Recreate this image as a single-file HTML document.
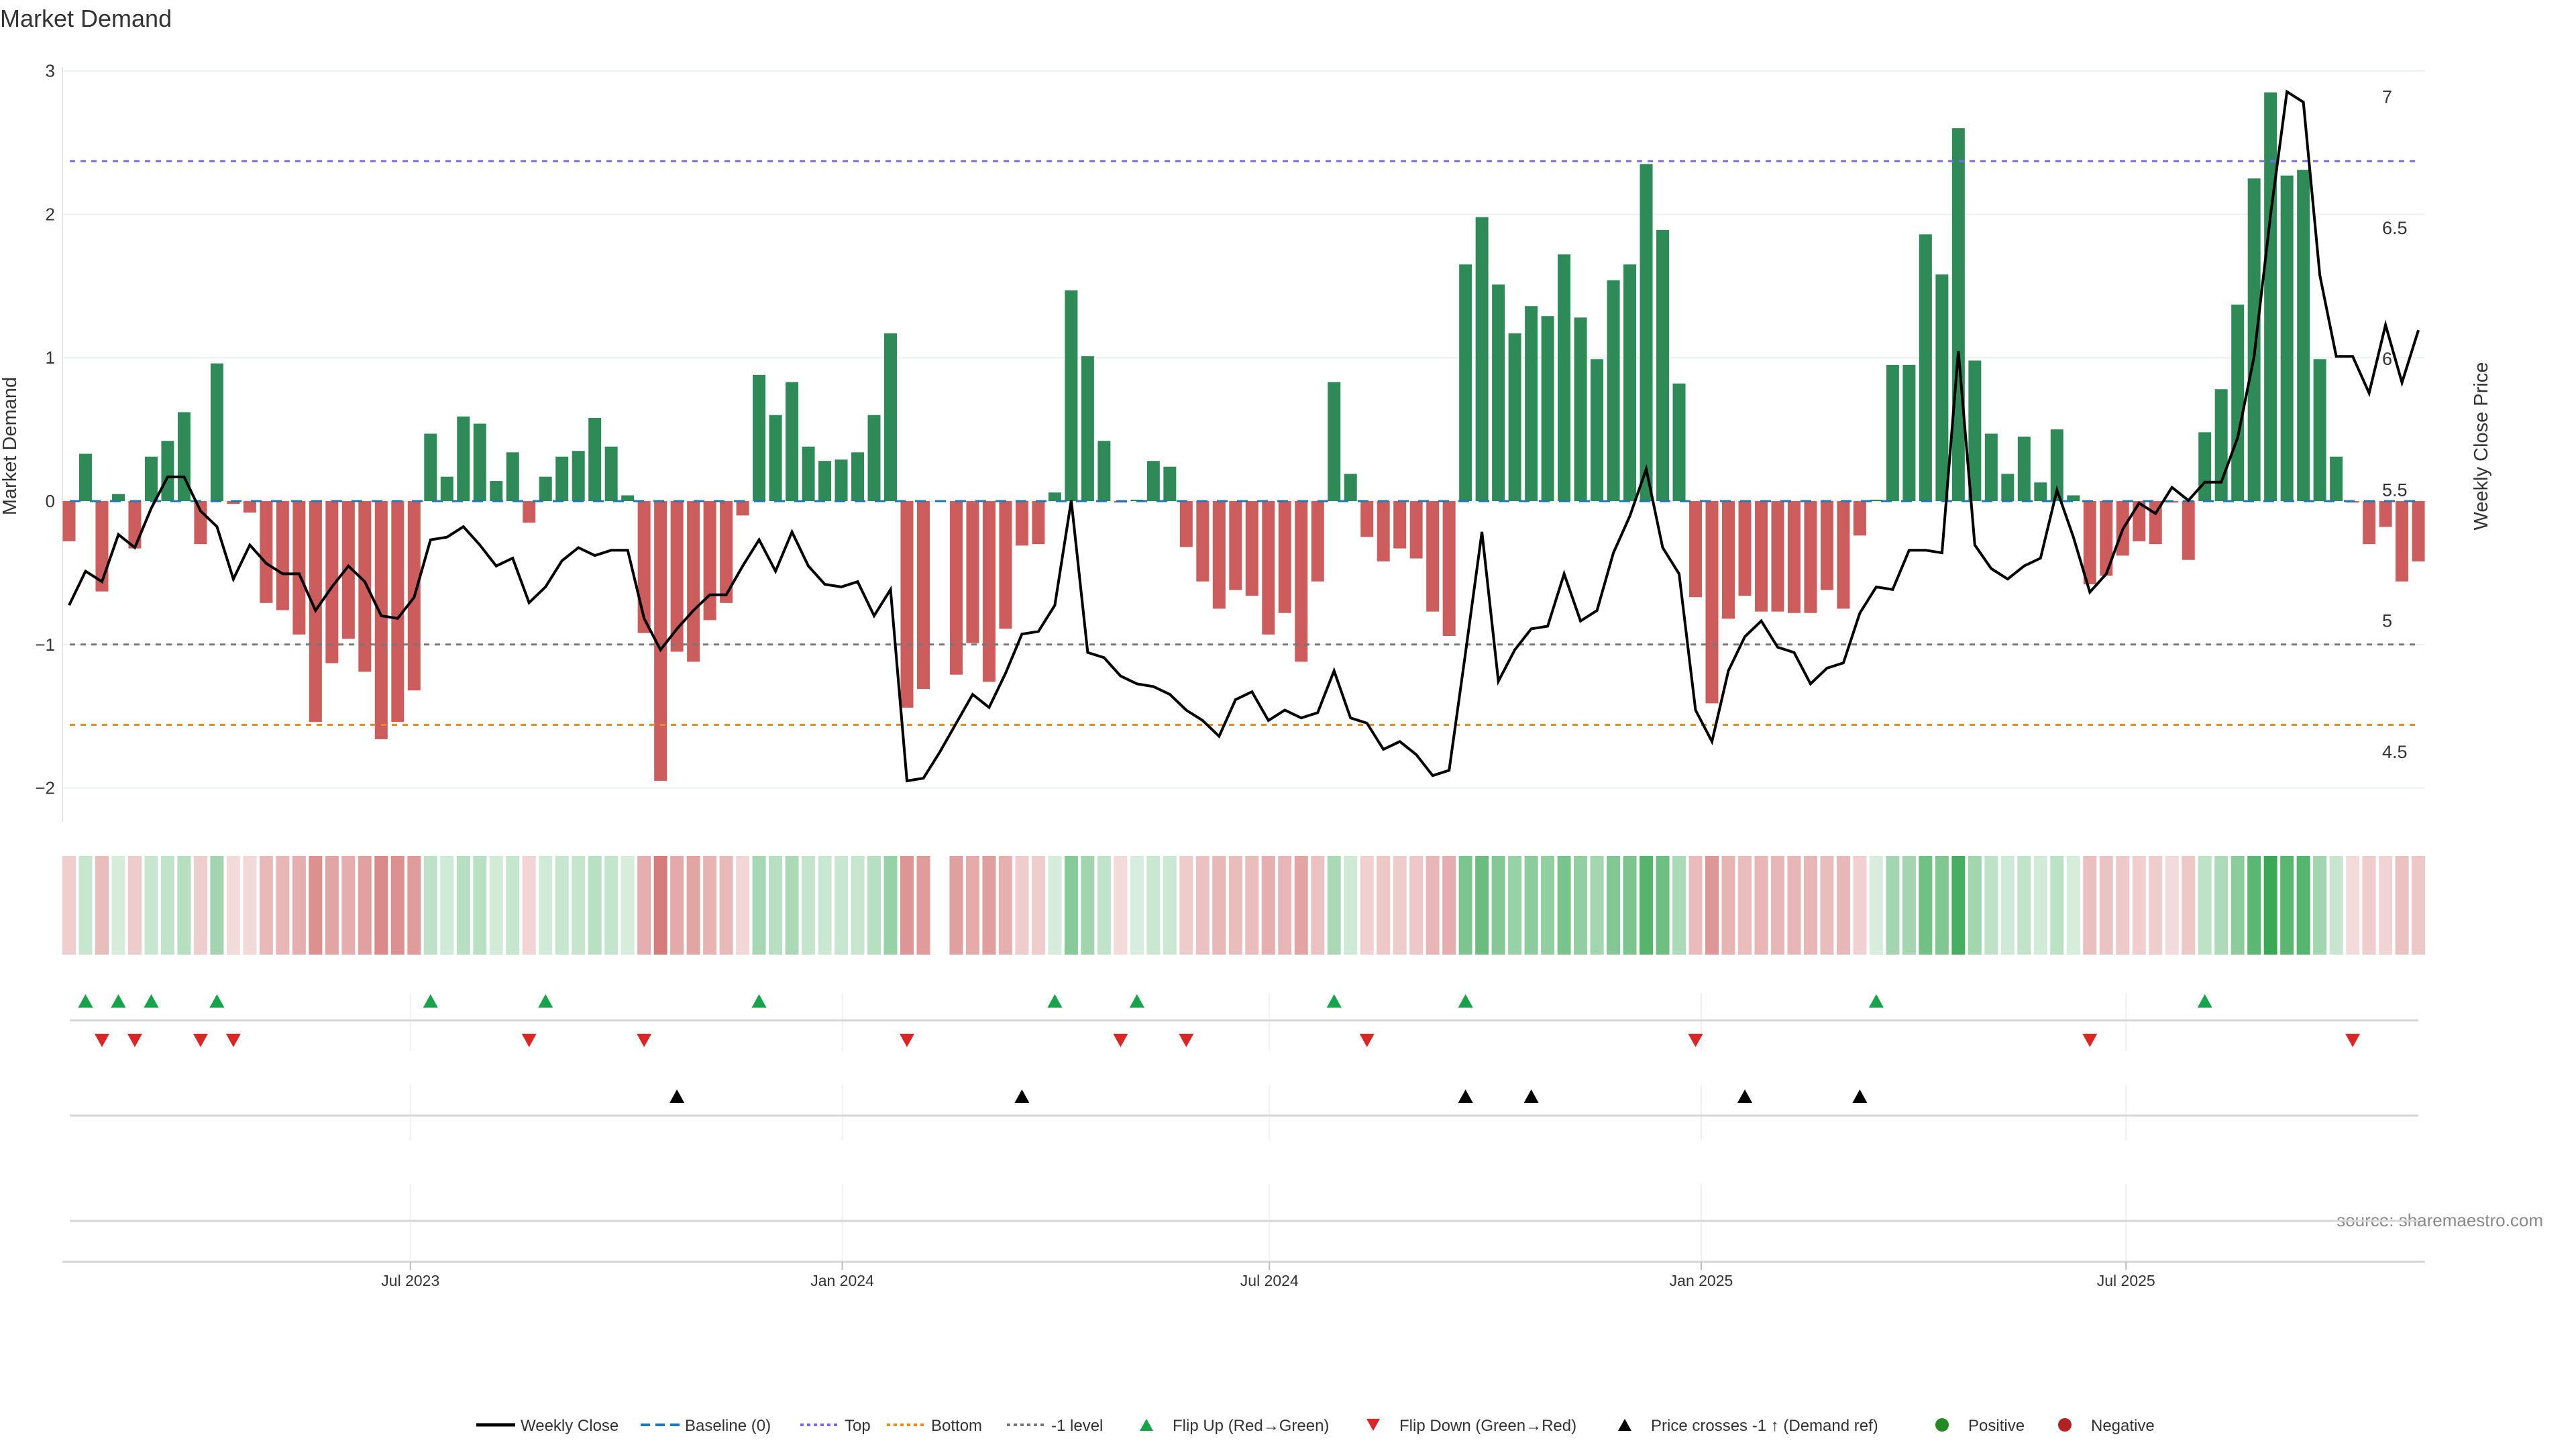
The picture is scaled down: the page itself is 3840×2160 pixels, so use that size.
<!DOCTYPE html>
<html><head><meta charset="utf-8"><style>
html,body{margin:0;padding:0;background:#fff;}
svg{display:block;font-family:"Liberation Sans","DejaVu Sans",sans-serif;}
</style></head><body>
<svg id="chart" width="3840" height="2160" viewBox="0 0 3840 2160" xmlns="http://www.w3.org/2000/svg">
<text x="0" y="40" font-size="36" fill="#333">Market Demand</text>
<text transform="translate(24,665) rotate(-90)" text-anchor="middle" font-size="29" fill="#333">Market Demand</text>
<text transform="translate(3708,665) rotate(-90)" text-anchor="middle" font-size="29" fill="#333">Weekly Close Price</text>
<text x="3791" y="1828" text-anchor="end" font-size="26" fill="#888">source: sharemaestro.com</text>
<g id="layer"></g>
</svg>
<script>
const demand=[-0.28,0.33,-0.63,0.05,-0.33,0.31,0.42,0.62,-0.3,0.96,-0.02,-0.08,-0.71,-0.76,-0.93,-1.54,-1.13,-0.96,-1.19,-1.66,-1.54,-1.32,0.47,0.17,0.59,0.54,0.14,0.34,-0.15,0.17,0.31,0.35,0.58,0.38,0.04,-0.92,-1.95,-1.05,-1.12,-0.83,-0.71,-0.1,0.88,0.6,0.83,0.38,0.28,0.29,0.34,0.6,1.17,-1.44,-1.31,null,-1.21,-0.99,-1.26,-0.89,-0.31,-0.3,0.06,1.47,1.01,0.42,-0.01,0.01,0.28,0.24,-0.32,-0.56,-0.75,-0.62,-0.66,-0.93,-0.78,-1.12,-0.56,0.83,0.19,-0.25,-0.42,-0.33,-0.4,-0.77,-0.94,1.65,1.98,1.51,1.17,1.36,1.29,1.72,1.28,0.99,1.54,1.65,2.35,1.89,0.82,-0.67,-1.41,-0.82,-0.66,-0.77,-0.77,-0.78,-0.78,-0.62,-0.75,-0.24,0.01,0.95,0.95,1.86,1.58,2.6,0.98,0.47,0.19,0.45,0.13,0.5,0.04,-0.58,-0.52,-0.38,-0.28,-0.3,-0.01,-0.41,0.48,0.78,1.37,2.25,2.85,2.27,2.31,0.99,0.31,-0.01,-0.3,-0.18,-0.56,-0.42];
const closePrice=[5.06,5.19,5.15,5.33,5.28,5.43,5.55,5.55,5.42,5.36,5.16,5.29,5.22,5.18,5.18,5.04,5.13,5.21,5.15,5.02,5.01,5.09,5.31,5.32,5.36,5.29,5.21,5.24,5.07,5.13,5.23,5.28,5.25,5.27,5.27,5.01,4.89,4.97,5.04,5.10,5.10,5.21,5.31,5.19,5.34,5.21,5.14,5.13,5.15,5.02,5.12,4.39,4.40,4.50,4.61,4.72,4.67,4.80,4.95,4.96,5.06,5.46,4.88,4.86,4.79,4.76,4.75,4.72,4.66,4.62,4.56,4.70,4.73,4.62,4.66,4.63,4.65,4.81,4.63,4.61,4.51,4.54,4.49,4.41,4.43,4.88,5.34,4.77,4.89,4.97,4.98,5.18,5.00,5.04,5.26,5.40,5.58,5.28,5.18,4.66,4.54,4.81,4.94,5.00,4.90,4.88,4.76,4.82,4.84,5.03,5.13,5.12,5.27,5.27,5.26,6.03,5.29,5.20,5.16,5.21,5.24,5.50,5.32,5.11,5.18,5.35,5.45,5.41,5.51,5.46,5.53,5.53,5.70,6.01,6.55,7.02,6.98,6.32,6.01,6.01,5.87,6.13,5.91,6.11];
const flipUpIdx=[1,3,5,9,22,29,42,60,65,77,85,110,130];
const flipDownIdx=[2,4,8,10,28,35,51,64,68,79,99,123,139];
const priceCrossIdx=[37,58,85,89,102,109];
const leftTicks=[3,2,1,0,-1,-2];
const rightTicks=[7,6.5,6,5.5,5,4.5];
const dateTickLabels=["Jul 2023","Jan 2024","Jul 2024","Jan 2025","Jul 2025"];
const dateTickValues=["2023-07-01","2024-01-01","2024-07-01","2025-01-01","2025-07-01"];
const levelTop=2.37, levelBottom=-1.56, levelMinus1=-1;

const NS="http://www.w3.org/2000/svg";
const layer=document.getElementById('layer');
function mk(tag,attrs,parent){const e=document.createElementNS(NS,tag);for(const k in attrs)e.setAttribute(k,attrs[k]);(parent||layer).appendChild(e);return e;}
const X0=93,X1=3615;
const startDate=new Date("2023-02-05T00:00:00Z").getTime();
const dayPx=24.49/7;
function xDate(s){return 101+(new Date(s+"T00:00:00Z").getTime()-startDate)/86400000*dayPx;}
function xi(i){return 103+i*24.49;}
function yL(v){return 747-v*213.8;}
function yR(v){return 144.5+(7-v)*390.6;}

leftTicks.forEach(t=>{
  const g=mk('line',{x1:X0,x2:X1,y1:yL(t),y2:yL(t),stroke:'#eceff3','stroke-width':2});
  
  
  const tx=mk('text',{x:82,y:yL(t)+9,'text-anchor':'end','font-size':26,fill:'#333'});
  tx.textContent=(t<0?'\u2212'+(-t):String(t));
  
  
});
rightTicks.forEach(t=>{
  const tx=mk('text',{x:3551,y:yR(t)+9,'font-size':27,fill:'#333'});
  tx.textContent=String(t);
  
  
});
const ax=mk('line',{x1:X0,x2:X0,y1:100,y2:1225,stroke:'#e6e6e6','stroke-width':2});



demand.forEach((v,i)=>{
  if(v===null)return;
  const y0=yL(0),y1=yL(v);
  const b=mk('rect',{x:xi(i)-9.5,y:Math.min(y0,y1),width:19,height:Math.max(1,Math.abs(y1-y0)),fill:v>=0?'#2e8b57':'#cd5c5c'});
  
  
});
function refLine(v,col,dash,name){const l=mk('line',{x1:104,x2:3605,y1:yL(v),y2:yL(v),stroke:col,'stroke-width':3,'stroke-dasharray':dash});}
refLine(0,'#1f77b4','16 14','baseline-zero');
refLine(levelTop,'#7b68ee','8 8','top-level-line');
refLine(levelBottom,'#ee8822','8 8','bottom-level-line');
refLine(levelMinus1,'#777','8 8','minus-one-level-line');
const pts=closePrice.map((p,i)=>xi(i).toFixed(1)+','+yR(p).toFixed(1)).join(' ');
const pl=mk('polyline',{points:pts,fill:'none',stroke:'#000','stroke-width':4,'stroke-linejoin':'miter'});



demand.forEach((v,i)=>{
  if(v===null)return;
  const a=Math.min(1,Math.abs(v)/2.9);
  let col;
  if(v>=0){col=`rgba(40,160,70,${(0.18+0.75*a).toFixed(3)})`;}
  else{col=`rgba(200,80,80,${(0.2+0.55*Math.min(1,Math.abs(v)/1.95)).toFixed(3)})`;}
  const c=mk('rect',{x:xi(i)-10,y:1276,width:20,height:147,fill:col});
  
  
});

[[1480,1567],[1617,1700],[1765,1881]].forEach(([a,b])=>{
  dateTickValues.forEach(d=>{const l=mk('line',{x1:xDate(d),x2:xDate(d),y1:a,y2:b,stroke:'#eef0f3','stroke-width':2});});
});
[1521,1663,1820].forEach(y=>{const l=mk('line',{x1:104,x2:3605,y1:y,y2:y,stroke:'#d6d6d6','stroke-width':3});});
function tri(x,y,up,col,name){const h=20,w=11;const p=up?`${x},${y-h/2} ${x-w},${y+h/2} ${x+w},${y+h/2}`:`${x},${y+h/2} ${x-w},${y-h/2} ${x+w},${y-h/2}`;const t=mk('polygon',{points:p,fill:col});}
flipUpIdx.forEach(i=>tri(xi(i),1492,true,'#16a34a','flip-up-marker'));
flipDownIdx.forEach(i=>tri(xi(i),1551,false,'#dc2626','flip-down-marker'));
priceCrossIdx.forEach(i=>tri(xi(i),1634,true,'#000','price-cross-marker'));

const xa=mk('line',{x1:X0,x2:X1,y1:1881,y2:1881,stroke:'#d6d6d6','stroke-width':3});


dateTickValues.forEach((d,k)=>{
  const x=xDate(d);
  const tk=mk('line',{x1:x,x2:x,y1:1881,y2:1893,stroke:'#bbb','stroke-width':2});
  
  
  const t=mk('text',{x:x,y:1917,'text-anchor':'middle','font-size':23,fill:'#333'});
  t.textContent=dateTickLabels[k];
  
  
});

const legend=mk('g',{});


const items=[
 ['line','#000','','Weekly Close',710],
 ['line','#1f77b4','14 8','Baseline (0)',955],
 ['line','#7b68ee','5 5','Top',1193],
 ['line','#ee8822','5 5','Bottom',1322],
 ['line','#777','5 5','-1 level',1501],
 ['up','#16a34a','','Flip Up (Red\u2192Green)',1680],
 ['down','#dc2626','','Flip Down (Green\u2192Red)',2018],
 ['up','#000','','Price crosses -1 \u2191 (Demand ref)',2393],
 ['dot','#228b22','','Positive',2866],
 ['dot','#b22222','','Negative',3049]];
items.forEach(([kind,col,dash,label,x])=>{
  const g=mk('g',{},legend);
  
  
  const y=2124;
  if(kind==='line')mk('line',{x1:x,x2:x+58,y1:y,y2:y,stroke:col,'stroke-width':!dash?5:4,'stroke-dasharray':dash},g);
  else if(kind==='dot')mk('circle',{cx:x+29,cy:y,r:10,fill:col},g);
  else{const h=18,w=10,cx=x+29;mk('polygon',{points:kind==='up'?`${cx},${y-h/2} ${cx-w},${y+h/2} ${cx+w},${y+h/2}`:`${cx},${y+h/2} ${cx-w},${y-h/2} ${cx+w},${y-h/2}`,fill:col},g);}
  const t=mk('text',{x:x+(kind==='line'?66:68),y:y+9,'font-size':24,fill:'#333'},g);
  t.textContent=label;
});
</script>
</body></html>
